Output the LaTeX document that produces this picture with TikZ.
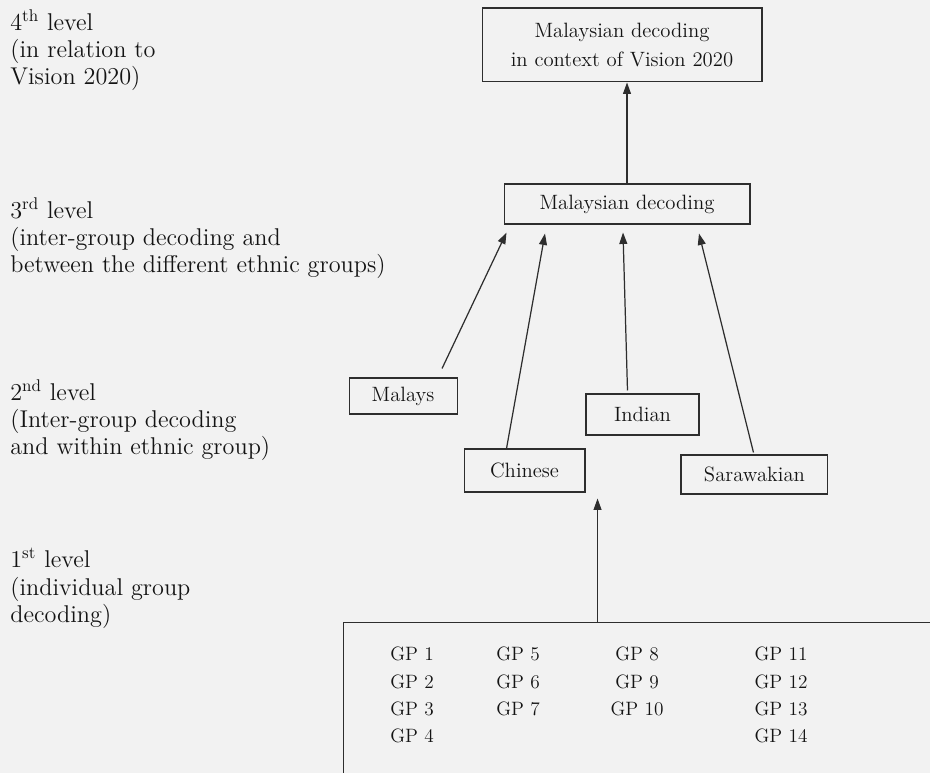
\documentclass[tikz,border=0pt]{standalone}
\usepackage{fontspec}
\usetikzlibrary{arrows.meta, positioning, calc}
\def\InkColor{black!82}
\def\TextColor{black!92}
\def\PaperColor{black!5}
\newcommand{\LevelFont}{\fontsize{13.8}{15.4}\selectfont}
\newcommand{\BoxFont}{\fontsize{11.8}{16.5}\selectfont}
\newcommand{\GroupFont}{\fontsize{11}{15.4}\selectfont}

\begin{document}
\begin{tikzpicture} [
    x=0.02cm, y=-0.02cm,
    B/.style = {draw=\InkColor, text=\TextColor, line width=0.6pt, inner sep=0pt, align=center, font=\BoxFont},
    lvl/.style = {anchor=north west, inner sep=0pt, align=left, text=\TextColor, font=\LevelFont},
    gp/.style = {anchor=north, inner sep=0pt, align=center, text=\TextColor, font=\GroupFont},
    every edge/.style={draw=\InkColor, -{Triangle[length=6.5pt,width=4.5pt]}, line width=0.7pt}
    ]
  \useasboundingbox (0,0) rectangle (930,773);
  \clip (0,0) rectangle (930,773);
  \fill[\PaperColor] (0,0) rectangle (930,773);

  %%% LEVELS (left column) %%%
  \node[lvl] (lvl4) at (10,9)   {4\textsuperscript{th} level\\(in relation to\\Vision 2020)};
  \node[lvl] (lvl3) at (10,197) {3\textsuperscript{rd} level\\(inter-group decoding and\\between the different ethnic groups)};
  \node[lvl] (lvl2) at (10,379) {2\textsuperscript{nd} level\\(Inter-group decoding\\and within ethnic group)};
  \node[lvl] (lvl1) at (10,548) {1\textsuperscript{st} level\\(individual group\\decoding)};

  %%% MALAYSIAN DECODING %%%
  \node[B, minimum width=4.92cm, minimum height=0.8cm] (msia) at (627,204) {Malaysian decoding};

  %%% VISION 2020 %%%
  \node[B, minimum width=5.6cm, minimum height=1.48cm] (vision) [above=2.02cm of msia, xshift=-0.1cm]
    {Malaysian decoding\\in context of Vision 2020};

  %%% ETHNIC GROUPS %%%
  \node[B, minimum width=2.16cm, minimum height=0.72cm] (malays)     [below=3.06cm of msia, xshift=-4.48cm] {Malays};
  \node[B, minimum width=2.42cm, minimum height=0.86cm] (chinese)    [below=4.48cm of msia, xshift=-2.05cm] {Chinese};
  \node[B, minimum width=2.26cm, minimum height=0.82cm] (indian)     [below=3.38cm of msia, xshift=0.31cm]  {Indian};
  \node[B, minimum width=2.94cm, minimum height=0.78cm] (sarawakian) [below=4.6cm of msia, xshift=2.55cm]   {Sarawakian};

  %%% INDIVIDUAL GROUPS %%%
  \node[B, anchor=north west, minimum width=12.2cm, minimum height=3.6cm] (gp) at (343,622) {};
    % group labels
    \node[gp] (gpa) at (412,647) {GP 1\\GP 2\\GP 3\\GP 4};
    \node[gp] (gpb) at (518,647) {GP 5\\GP 6\\GP 7};
    \node[gp] (gpc) at (637,647) {GP 8\\GP 9\\GP 10};
    \node[gp] (gpd) at (781,647) {GP 11\\GP 12\\GP 13\\GP 14};

  % Edges
  \path (msia.north) edge (msia.north |- vision.south);

  \path ($(malays.north)+(39,-9)$)     edge ($(msia.south west)+(3,8)$);
  \path ($(chinese.north)+(-18,0)$)    edge ($(msia.south)+(-82,9)$);
  \path ($(indian.north)+(-15,-3)$)    edge ($(msia.south)+(-4,8)$);
  \path ($(sarawakian.north)+(-1,-2)$) edge ($(msia.south)+(72,9)$);

  \coordinate (lvl2in) at ($(chinese.south east)+(12,6)$);
  \path (gp.north -| lvl2in) edge (lvl2in);

\end{tikzpicture}
\end{document}
